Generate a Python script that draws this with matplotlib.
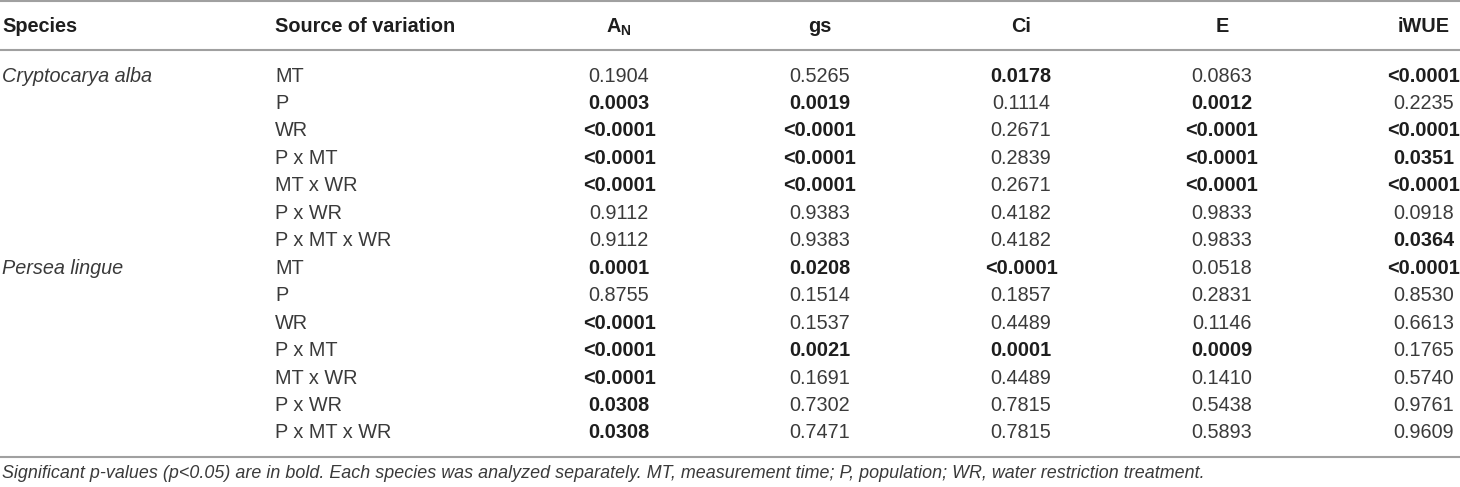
import matplotlib
matplotlib.use("Agg")
import matplotlib.pyplot as plt

plt.rcParams['font.family'] = ['Liberation Sans', 'DejaVu Sans']
plt.rcParams['mathtext.fontset'] = 'custom'
plt.rcParams['mathtext.rm'] = 'Liberation Sans'
plt.rcParams['mathtext.bf'] = 'Liberation Sans:bold'

species = ["Cryptocarya alba", "Persea lingue"]
sources = ["MT", "P", "WR", "P x MT", "MT x WR", "P x WR", "P x MT x WR"]
columns = [r"$\mathbf{A}_\mathbf{N}$", "gs", "Ci", "E", "iWUE"]

# p-values, one list per column (rows: C. alba x 7 sources, then P. lingue x 7)
an = ["0.1904", "0.0003", "<0.0001", "<0.0001", "<0.0001", "0.9112", "0.9112",
      "0.0001", "0.8755", "<0.0001", "<0.0001", "<0.0001", "0.0308", "0.0308"]
gs = ["0.5265", "0.0019", "<0.0001", "<0.0001", "<0.0001", "0.9383", "0.9383",
      "0.0208", "0.1514", "0.1537", "0.0021", "0.1691", "0.7302", "0.7471"]
ci = ["0.0178", "0.1114", "0.2671", "0.2839", "0.2671", "0.4182", "0.4182",
      "<0.0001", "0.1857", "0.4489", "0.0001", "0.4489", "0.7815", "0.7815"]
e = ["0.0863", "0.0012", "<0.0001", "<0.0001", "<0.0001", "0.9833", "0.9833",
     "0.0518", "0.2831", "0.1146", "0.0009", "0.1410", "0.5438", "0.5893"]
iwue = ["<0.0001", "0.2235", "<0.0001", "0.0351", "<0.0001", "0.0918", "0.0364",
        "<0.0001", "0.8530", "0.6613", "0.1765", "0.5740", "0.9761", "0.9609"]

footnote = ("Significant p-values (p<0.05) are in bold. Each species was analyzed separately. "
            "MT, measurement time; P, population; WR, water restriction treatment.")


def significant(v):
    return v.startswith("<") or float(v) < 0.05


W, H = 1460, 487
fig = plt.figure(figsize=(W / 100, H / 100), dpi=100)
ax = fig.add_axes([0, 0, 1, 1])
ax.set_xlim(0, W)
ax.set_ylim(H, 0)
ax.axis('off')

fs = 14.3
dark = '#1e1e1e'
light = '#3a3a3a'
line_c = '#a0a0a0'

col_x = [619, 820, 1021, 1222, 1424]
header_y = 27
row0 = 76
row_h = 27.46

# rules
for y in [1, 50, 457]:
    ax.plot([0, W], [y, y], color=line_c, lw=1.5, solid_capstyle='butt')

# header
ax.text(2, header_y, "Species", fontsize=fs, fontweight='bold', color=dark, va='center')
ax.text(275, header_y, "Source of variation", fontsize=fs, fontweight='bold', color=dark, va='center')
for x, c in zip(col_x, columns):
    ax.text(x, header_y, c, fontsize=fs, fontweight='bold', color=dark, ha='center', va='center')

# body
data = [an, gs, ci, e, iwue]
for i in range(len(an)):
    y = row0 + i * row_h
    if i % len(sources) == 0:
        ax.text(2, y, species[i // len(sources)], fontsize=fs, style='italic', color=light, va='center')
    ax.text(275, y, sources[i % len(sources)], fontsize=fs, color=light, va='center')
    for x, col in zip(col_x, data):
        v = col[i]
        b = significant(v)
        ax.text(x, y, v, fontsize=fs, fontweight='bold' if b else 'normal',
                color=dark if b else light, ha='center', va='center')

ax.text(2, 473, footnote, fontsize=12.9, style='italic', color=light, va='center')

fig.savefig("out.png", dpi=100)
